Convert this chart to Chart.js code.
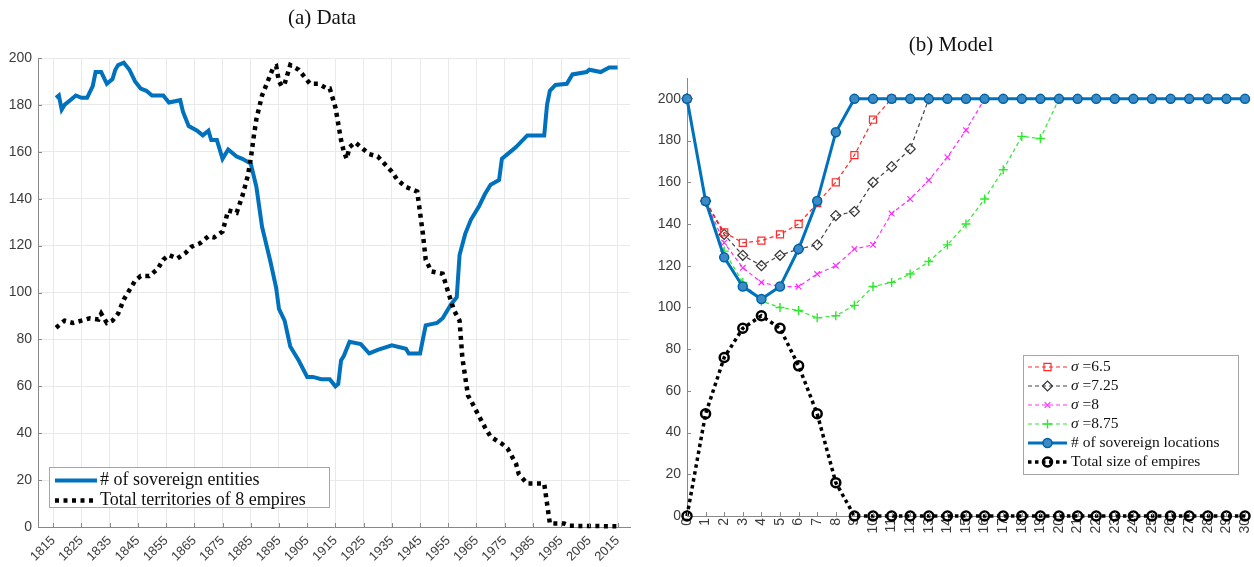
<!DOCTYPE html>
<html>
<head>
<meta charset="utf-8">
<script src="https://cdn.jsdelivr.net/npm/chart.js"></script>
<style>
  html, body { margin: 0; padding: 0; background: #fff; }
  body { width: 1254px; height: 567px; position: relative; overflow: hidden; }
  .panel { position: absolute; top: 0; height: 567px; }
  #panelA { left: 0; width: 640px; }
  #panelB { left: 640px; width: 614px; }
  .title {
    position: absolute; transform: translateX(-50%); white-space: nowrap;
    font-family: "Liberation Serif", "DejaVu Serif", serif; font-size: 21px; color: #111;
  }
</style>
</head>
<body>
<div class="panel" id="panelA"><canvas id="dataChart"></canvas></div>
<div class="panel" id="panelB"><canvas id="modelChart"></canvas></div>
<div class="title" style="left:322px; top:5px;">(a) Data</div>
<div class="title" style="left:951px; top:32px;">(b) Model</div>

<script>
// ---- (a) Data -------------------------------------------------------------
const yearTicks = [1815, 1825, 1835, 1845, 1855, 1865, 1875, 1885, 1895, 1905, 1915,
                   1925, 1935, 1945, 1955, 1965, 1975, 1985, 1995, 2005, 2015];
const countTicks = [0, 20, 40, 60, 80, 100, 120, 140, 160, 180, 200];

const sovYears = [1816, 1817, 1818, 1819, 1821, 1823, 1825, 1827, 1829, 1830, 1832, 1834, 1836,
                  1837, 1838, 1840, 1842, 1844, 1846, 1848, 1850, 1854, 1856, 1860, 1861, 1863,
                  1866, 1868, 1870, 1871, 1873, 1875, 1877, 1880, 1882, 1885, 1887, 1889, 1890,
                  1892, 1894, 1895, 1897, 1899, 1902, 1905, 1907, 1910, 1913, 1915, 1916, 1917,
                  1918, 1920, 1924, 1927, 1930, 1935, 1940, 1941, 1945, 1946, 1947, 1951, 1953,
                  1956, 1958, 1959, 1961, 1963, 1966, 1968, 1970, 1973, 1974, 1976, 1979, 1983,
                  1989, 1990, 1991, 1993, 1997, 1999, 2004, 2005, 2009, 2012, 2015];
const sovCount = [183, 184, 178, 180, 182, 184, 183, 183, 188, 194, 194, 189, 191,
                  195, 197, 198, 195, 190, 187, 186, 184, 184, 181, 182, 177, 171,
                  169, 167, 169, 165, 165, 157, 161, 158, 157, 155, 145, 128, 123,
                  113, 102, 93, 88, 77, 71, 64, 64, 63, 63, 60, 61, 71,
                  73, 79, 78, 74, 75.5, 77.5, 76, 74, 74, 80, 86, 87, 89,
                  95, 98, 116, 125, 131, 137, 142, 146, 148, 157, 159, 162, 167,
                  167, 180, 186, 188.5, 189, 193, 194, 195, 194, 196, 196];

const empYears = [1816, 1818, 1819, 1822, 1825, 1828, 1831, 1832, 1834, 1836, 1838, 1840, 1842,
                  1844, 1846, 1849, 1852, 1854, 1856, 1859, 1862, 1864, 1867, 1870, 1872, 1875,
                  1877, 1880, 1882, 1884, 1885, 1886, 1887, 1889, 1891, 1893, 1894, 1895, 1896,
                  1897, 1899, 1902, 1906, 1909, 1912, 1913, 1915, 1917, 1918, 1919, 1920, 1922,
                  1927, 1930, 1935, 1937, 1940, 1944, 1945, 1946, 1947, 1949, 1953, 1955, 1957,
                  1959, 1960, 1961, 1962, 1963, 1966, 1968, 1970, 1974, 1976, 1979, 1980, 1983,
                  1989, 1990, 1991, 1996, 1998, 2015];
const empTerritories = [85, 87, 88, 87, 88, 89, 88.5, 91, 87, 88, 91, 97, 101,
                        105, 107, 107, 110, 114, 116, 114.5, 117, 119.5, 121, 124, 123.5, 126,
                        135, 134, 141, 150, 157, 166, 174, 184, 190, 196, 196.5, 190, 188,
                        189, 197, 195, 189, 189, 187, 187, 179, 165, 160, 157, 162, 164,
                        159, 158, 151.5, 148, 145, 143, 134, 125, 114, 109, 108, 100, 92.5,
                        88, 72, 64, 56, 54, 47, 42.5, 38.5, 35.5, 33.5, 27, 22.5, 18.5,
                        18.5, 10, 1.5, 1.5, 0.5, 0.3];

// ---- (b) Model ------------------------------------------------------------
const steps = [0, 1, 2, 3, 4, 5, 6, 7, 8, 9, 10, 11, 12, 13, 14, 15,
               16, 17, 18, 19, 20, 21, 22, 23, 24, 25, 26, 27, 28, 29, 30];
const sigma65  = [200, 151, 136, 131, 132, 135, 140, 150, 160, 173, 190, 200,
                  null, null, null, null, null, null, null, null, null, null, null, null, null,
                  null, null, null, null, null, null];
const sigma725 = [200, 151, 135, 125, 120, 125, 128, 130, 144, 146, 160, 167.5, 176, 200,
                  null, null, null, null, null, null, null, null, null, null, null, null, null,
                  null, null, null, null];
const sigma8   = [200, 151, 131, 119, 112, 110, 110, 116, 120, 128, 130, 145, 152, 161, 172, 185, 200,
                  null, null, null, null, null, null, null, null, null, null, null, null, null, null];
const sigma875 = [200, 151, 127, 112, 103, 100, 98.5, 95, 96, 101, 110, 112, 116, 122, 130, 140,
                  152, 166, 182, 181, 200,
                  null, null, null, null, null, null, null, null, null, null];
const sovLocations = [200, 151, 124, 110, 104, 110, 128, 151, 184, 200, 200, 200, 200, 200, 200, 200,
                      200, 200, 200, 200, 200, 200, 200, 200, 200, 200, 200, 200, 200, 200, 200];
const empireSize = [0, 49, 76, 90, 96, 90, 72, 49, 16, 0, 0, 0, 0, 0, 0, 0,
                    0, 0, 0, 0, 0, 0, 0, 0, 0, 0, 0, 0, 0, 0, 0];

const tickFont = { family: '"Liberation Sans", Arial, sans-serif', size: 13 };
const tickColor = '#3c3c3c';
const serif = '"Liberation Serif", "DejaVu Serif", serif';

function pairUp(xs, ys) {
    return xs.map((x, i) => ({ x: x, y: ys[i] }));
}

// MATLAB style tick marks pointing into the plot
const innerTicks = {
    id: 'innerTicks',
    afterDatasetsDraw(chart) {
        const ctx = chart.ctx;
        const area = chart.chartArea;
        const len = 4;
        ctx.save();
        ctx.strokeStyle = '#888';
        ctx.lineWidth = 1;
        ctx.beginPath();
        chart.scales.x.ticks.forEach(t => {
            const px = Math.round(chart.scales.x.getPixelForValue(t.value)) + 0.5;
            ctx.moveTo(px, area.bottom);
            ctx.lineTo(px, area.bottom - len);
        });
        chart.scales.y.ticks.forEach(t => {
            const py = Math.round(chart.scales.y.getPixelForValue(t.value)) + 0.5;
            ctx.moveTo(area.left, py);
            ctx.lineTo(area.left + len, py);
        });
        ctx.stroke();
        ctx.restore();
    }
};

// legend drawn inside the plot area, like the MATLAB one
const insideLegend = {
    id: 'insideLegend',
    afterDraw(chart, args, opts) {
        const ctx = chart.ctx;
        ctx.save();
        ctx.fillStyle = '#fff';
        ctx.fillRect(opts.x, opts.y, opts.w, opts.h);
        ctx.strokeStyle = '#a6a6a6';
        ctx.lineWidth = 1;
        ctx.strokeRect(opts.x + 0.5, opts.y + 0.5, opts.w, opts.h);

        opts.items.forEach((item, i) => {
            const ds = chart.data.datasets[item.index];
            const y = opts.y + opts.first + i * opts.step;
            ctx.beginPath();
            ctx.setLineDash(ds.borderDash || []);
            ctx.strokeStyle = ds.borderColor;
            ctx.lineWidth = ds.borderWidth;
            ctx.moveTo(opts.x + opts.line0, y);
            ctx.lineTo(opts.x + opts.line1, y);
            ctx.stroke();
            ctx.setLineDash([]);

            if (ds.pointRadius > 0) {
                ctx.fillStyle = ds.pointBackgroundColor;
                ctx.strokeStyle = ds.pointBorderColor;
                ctx.lineWidth = ds.pointBorderWidth;
                Chart.helpers.drawPoint(ctx, {
                    pointStyle: ds.pointStyle, radius: ds.pointRadius,
                    rotation: 0, borderWidth: ds.pointBorderWidth
                }, opts.x + (opts.line0 + opts.line1) / 2, y);
            }

            ctx.fillStyle = '#111';
            ctx.textBaseline = 'middle';
            ctx.textAlign = 'left';
            let tx = opts.x + opts.textX;
            item.parts.forEach(p => {
                ctx.font = (p.italic ? 'italic ' : '') + opts.fontSize + 'px ' + serif;
                ctx.fillText(p.t, tx, y);
                tx += ctx.measureText(p.t).width;
            });
        });
        ctx.restore();
    }
};

document.addEventListener('DOMContentLoaded', function () {

    new Chart(document.getElementById('dataChart'), {
        type: 'line',
        data: {
            datasets: [
                {
                    label: 'Total territories of 8 empires',
                    data: pairUp(empYears, empTerritories),
                    borderColor: '#000',
                    borderWidth: 4.5,
                    borderDash: [4, 4.5],
                    borderCapStyle: 'butt',
                    pointRadius: 0,
                    tension: 0,
                    clip: false
                },
                {
                    label: '# of sovereign entities',
                    data: pairUp(sovYears, sovCount),
                    borderColor: '#0072BD',
                    borderWidth: 4,
                    pointRadius: 0,
                    tension: 0,
                    clip: false
                }
            ]
        },
        options: {
            responsive: true,
            maintainAspectRatio: false,
            animation: false,
            layout: { padding: { top: 58, right: 10, left: 0, bottom: 0 } },
            plugins: {
                legend: { display: false },
                tooltip: { enabled: false },
                insideLegend: {
                    x: 49, y: 467, w: 280, h: 40, first: 13.5, step: 20,
                    line0: 6, line1: 48, textX: 51, fontSize: 18,
                    items: [
                        { index: 1, parts: [{ t: '# of sovereign entities' }] },
                        { index: 0, parts: [{ t: 'Total territories of 8 empires' }] }
                    ]
                }
            },
            scales: {
                x: {
                    type: 'linear',
                    min: 1809.6,
                    max: 2019.4,
                    afterBuildTicks: s => { s.ticks = yearTicks.map(v => ({ value: v })); },
                    afterFit: s => { s.height = 40; s.paddingLeft = 0; s.paddingRight = 0; },
                    ticks: {
                        minRotation: 45, maxRotation: 45, autoSkip: false,
                        color: tickColor, font: tickFont, padding: 6,
                        callback: v => String(v)
                    },
                    grid: { color: '#e9e9e9', drawTicks: false },
                    border: { color: '#888' }
                },
                y: {
                    min: 0,
                    max: 200,
                    afterBuildTicks: s => { s.ticks = countTicks.map(v => ({ value: v })); },
                    afterFit: s => { s.width = 38; s.paddingTop = 0; s.paddingBottom = 0; },
                    ticks: { color: tickColor, font: { family: tickFont.family, size: 14 }, padding: 6 },
                    grid: { color: '#e9e9e9', drawTicks: false },
                    border: { color: '#888' }
                }
            }
        },
        plugins: [insideLegend, innerTicks]
    });

    new Chart(document.getElementById('modelChart'), {
        type: 'line',
        data: {
            datasets: [
                {
                    label: '# of sovereign locations',
                    data: pairUp(steps, sovLocations),
                    borderColor: '#0072BD', borderWidth: 3,
                    pointStyle: 'circle', pointRadius: 4.5,
                    pointBackgroundColor: '#3a8ac6', pointBorderColor: '#0062a8', pointBorderWidth: 1.5,
                    order: 0
                },
                {
                    label: 'Total size of empires',
                    data: pairUp(steps, empireSize),
                    borderColor: '#000', borderWidth: 3.5, borderDash: [3.5, 3.5],
                    pointStyle: 'circle', pointRadius: 4.5,
                    pointBackgroundColor: 'rgba(255,255,255,0)', pointBorderColor: '#000', pointBorderWidth: 2.5,
                    order: 1
                },
                {
                    label: 'σ =6.5',
                    data: pairUp(steps, sigma65),
                    borderColor: '#ff2a2a', borderWidth: 1.2, borderDash: [4, 3],
                    pointStyle: 'rect', pointRadius: 5,
                    pointBackgroundColor: 'rgba(255,255,255,0)', pointBorderColor: '#ff2a2a', pointBorderWidth: 1.2,
                    order: 2
                },
                {
                    label: 'σ =7.25',
                    data: pairUp(steps, sigma725),
                    borderColor: '#444', borderWidth: 1.2, borderDash: [4, 3],
                    pointStyle: 'rectRot', pointRadius: 5,
                    pointBackgroundColor: 'rgba(255,255,255,0)', pointBorderColor: '#333', pointBorderWidth: 1.2,
                    order: 3
                },
                {
                    label: 'σ =8',
                    data: pairUp(steps, sigma8),
                    borderColor: '#ff2cff', borderWidth: 1.2, borderDash: [4, 3],
                    pointStyle: 'crossRot', pointRadius: 4,
                    pointBackgroundColor: 'rgba(255,255,255,0)', pointBorderColor: '#ff2cff', pointBorderWidth: 1.2,
                    order: 4
                },
                {
                    label: 'σ =8.75',
                    data: pairUp(steps, sigma875),
                    borderColor: '#2ee82e', borderWidth: 1.2, borderDash: [4, 3],
                    pointStyle: 'cross', pointRadius: 4.5,
                    pointBackgroundColor: 'rgba(255,255,255,0)', pointBorderColor: '#2ee82e', pointBorderWidth: 1.4,
                    order: 5
                }
            ]
        },
        options: {
            responsive: true,
            maintainAspectRatio: false,
            animation: false,
            elements: { line: { tension: 0 } },
            datasets: { line: { clip: false, spanGaps: false } },
            layout: { padding: { top: 78, right: 9, left: 0, bottom: 0 } },
            plugins: {
                legend: { display: false },
                tooltip: { enabled: false },
                insideLegend: {
                    x: 383, y: 355, w: 215, h: 119, first: 12, step: 19,
                    line0: 5, line1: 44, textX: 48, fontSize: 15.5,
                    items: [
                        { index: 2, parts: [{ t: 'σ', italic: true }, { t: ' =6.5' }] },
                        { index: 3, parts: [{ t: 'σ', italic: true }, { t: ' =7.25' }] },
                        { index: 4, parts: [{ t: 'σ', italic: true }, { t: ' =8' }] },
                        { index: 5, parts: [{ t: 'σ', italic: true }, { t: ' =8.75' }] },
                        { index: 0, parts: [{ t: '# of sovereign locations' }] },
                        { index: 1, parts: [{ t: 'Total size of empires' }] }
                    ]
                }
            },
            scales: {
                x: {
                    type: 'linear',
                    min: 0,
                    max: 30,
                    afterBuildTicks: s => { s.ticks = steps.map(v => ({ value: v })); },
                    afterFit: s => { s.height = 51; s.paddingLeft = 0; s.paddingRight = 0; },
                    ticks: {
                        minRotation: 90, maxRotation: 90, autoSkip: false,
                        color: tickColor, font: { family: tickFont.family, size: 14 }, padding: 2,
                        callback: v => String(v)
                    },
                    grid: { display: true, drawOnChartArea: false, drawTicks: false },
                    border: { color: '#888' }
                },
                y: {
                    min: 0,
                    max: 210,
                    afterBuildTicks: s => { s.ticks = countTicks.map(v => ({ value: v })); },
                    afterFit: s => { s.width = 47; s.paddingTop = 0; s.paddingBottom = 0; },
                    ticks: { color: tickColor, font: { family: tickFont.family, size: 14 }, padding: 6 },
                    grid: { display: true, drawOnChartArea: false, drawTicks: false },
                    border: { color: '#888' }
                }
            }
        },
        plugins: [innerTicks, insideLegend]
    });
});
</script>
</body>
</html>
